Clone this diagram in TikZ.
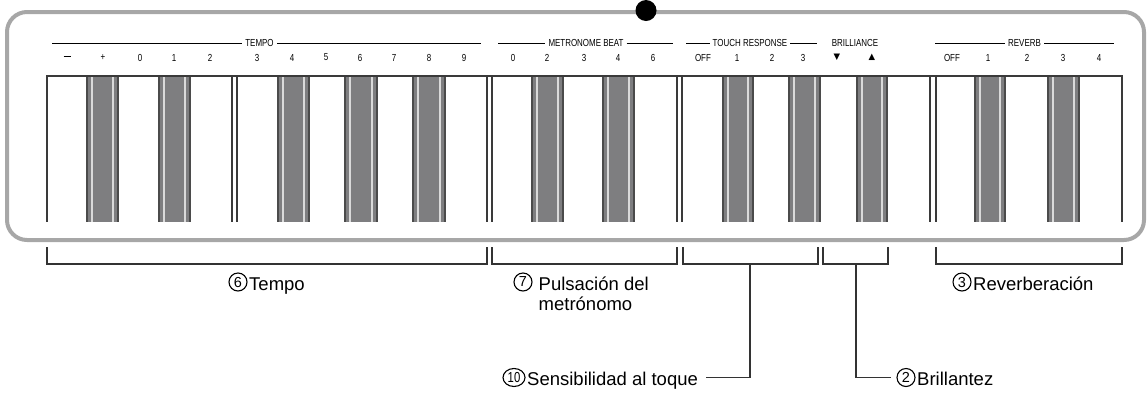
\documentclass[tikz,border=0pt]{standalone}
\usepackage{fontspec}
\usetikzlibrary{shapes.geometric}
\setmainfont{Liberation Sans}
\newfontfamily\condfont[FakeStretch=0.78]{Liberation Sans}
\newfontfamily\symfont{DejaVu Sans}
\definecolor{framegray}{HTML}{A7A7A7}
\definecolor{keyedge}{HTML}{3A3A3A}
\definecolor{bkout}{HTML}{4B4B4B}
\definecolor{bkin}{HTML}{7E7E80}
\definecolor{bklight}{HTML}{DADADA}
\definecolor{brk}{HTML}{333333}
\tikzset{
  frame/.style={draw=framegray, line width=4pt, rounded corners=20pt},
  keyline/.style={draw=keyedge, line width=1.2pt},
  topline/.style={draw=keyedge, line width=2pt},
  grp/.style={font=\condfont\fontsize{10.2}{11}\selectfont, inner sep=0pt},
  grpline/.style={draw=black, line width=1pt},
  num/.style={font=\condfont\fontsize{10.2}{11}\selectfont, inner sep=0pt},
  tri/.style={font=\symfont\fontsize{8.5}{9}\selectfont, inner sep=0pt},
  lbl/.style={font=\fontsize{18.5}{20}\selectfont, inner sep=0pt, anchor=base west},
  cnum/.style={circle, draw=black, line width=1.1pt, minimum size=18pt, inner sep=0pt,
    font=\fontsize{14.5}{14.5}\selectfont},
  cnumwide/.style={ellipse, draw=black, line width=1.1pt, minimum width=22pt, minimum height=18pt,
    inner sep=0pt, font=\condfont\fontsize{14.5}{14.5}\selectfont},
  bracket/.style={draw=brk, line width=1.2pt},
  conn/.style={draw=brk, line width=1.2pt},
}
\begin{document}
\begin{tikzpicture}[x=1pt,y=-1pt]
\useasboundingbox (0,0) rectangle (1148,392);
% frame
\draw[frame] (7,12) rectangle (1144,240);
\node[circle, fill=black, minimum size=21pt, inner sep=0pt] (dot) at (646,10.5) {};
% black keys
\foreach \a/\b [count=\i] in {86/119,158/191,277/310,344/378,412/446,531/564,602/635,722/754,788/821,856/888,974/1006,1047/1080}{
  \fill[bkout] (\a,76) rectangle (\b,222);
  \fill[bkin] (\a+1.8,76) rectangle (\b-1.8,222);
  \draw[bklight, line width=1.3pt] (\a+6,76) -- (\a+6,222);
  \draw[bklight, line width=1.3pt] (\b-6,76) -- (\b-6,222);
}
% white key separators
\foreach \x in {47,232,237,487,492,677,682,930,936,1122}{
  \draw[keyline] (\x,76) -- (\x,222);
}
\draw[topline] (46.4,76) -- (1122.6,76);
% group labels
\node[grp] (gTempo) at (259.5,43) {TEMPO};
\coordinate (gTempoL) at (52,43); \coordinate (gTempoR) at (481,43);
\draw[grpline] (gTempoL) -- ([xshift=-3pt]gTempo.west);
\draw[grpline] ([xshift=3pt]gTempo.east) -- (gTempoR);
\node[grp] (gMet) at (586,43) {METRONOME BEAT};
\coordinate (gMetL) at (498,43); \coordinate (gMetR) at (673,43);
\draw[grpline] (gMetL) -- ([xshift=-3pt]gMet.west);
\draw[grpline] ([xshift=3pt]gMet.east) -- (gMetR);
\node[grp] (gTouch) at (750,43) {TOUCH RESPONSE};
\coordinate (gTouchL) at (686,43); \coordinate (gTouchR) at (817,43);
\draw[grpline] (gTouchL) -- ([xshift=-3pt]gTouch.west);
\draw[grpline] ([xshift=3pt]gTouch.east) -- (gTouchR);
\node[grp] (gBril) at (855,43) {BRILLIANCE};
\node[grp] (gRev) at (1024.5,43) {REVERB};
\coordinate (gRevL) at (935,43); \coordinate (gRevR) at (1114,43);
\draw[grpline] (gRevL) -- ([xshift=-3pt]gRev.west);
\draw[grpline] ([xshift=3pt]gRev.east) -- (gRevR);
% number labels
\node[num] (nMinus) at (67,57.5) {\rule[3pt]{7pt}{1pt}};
\foreach \x/\t [count=\i] in {103/+,140/0,174/1,210/2,257/3,292/4,326/5,360/6,394/7,429/8,464/9,
  513/0,547/2,584/3,618/4,653/6,703/OFF,737/1,772/2,803/3,952/OFF,988/1,1027/2,1063/3,1099/4}{
  \node[num] (n\i) at (\x,57.5) {\t};
}
\node[tri] (down) at (837,57.5) {▼};
\node[tri] (up) at (872,57.5) {▲};
% brackets
\foreach \a/\b/\n in {47/487/bTempo,492/677/bMet,683/818/bTouch,823/888/bBril,936/1122/bRev}{
  \draw[bracket] (\a,247) -- (\a,264) -- (\b,264) -- (\b,247);
}
\coordinate (bTouchM) at (750,264);
\coordinate (bBrilM) at (856,264);
% bottom labels
\node[cnum] (cTempo) at (238,282) {6};
\node[lbl] (lTempo) at (249,290) {Tempo};
\node[cnum] (cMet) at (523,282) {7};
\node[lbl] (lMet) at (538.5,290) {Pulsación del};
\node[lbl] (lMet2) at (538.5,310) {metrónomo};
\node[cnum] (cRev) at (962,282) {3};
\node[lbl] (lRev) at (973,290) {Reverberación};
\node[cnumwide] (cSens) at (514,377.5) {10};
\node[lbl] (lSens) at (527,385.5) {Sensibilidad al toque};
\node[cnum] (cBril) at (906,377.5) {2};
\node[lbl] (lBril) at (917,385.5) {Brillantez};
\draw[conn] (bTouchM) |- ([xshift=8pt]lSens.east |- cSens.center);
\draw[conn] (bBrilM) |- ([xshift=-5pt]cBril.west);
\end{tikzpicture}
\end{document}
